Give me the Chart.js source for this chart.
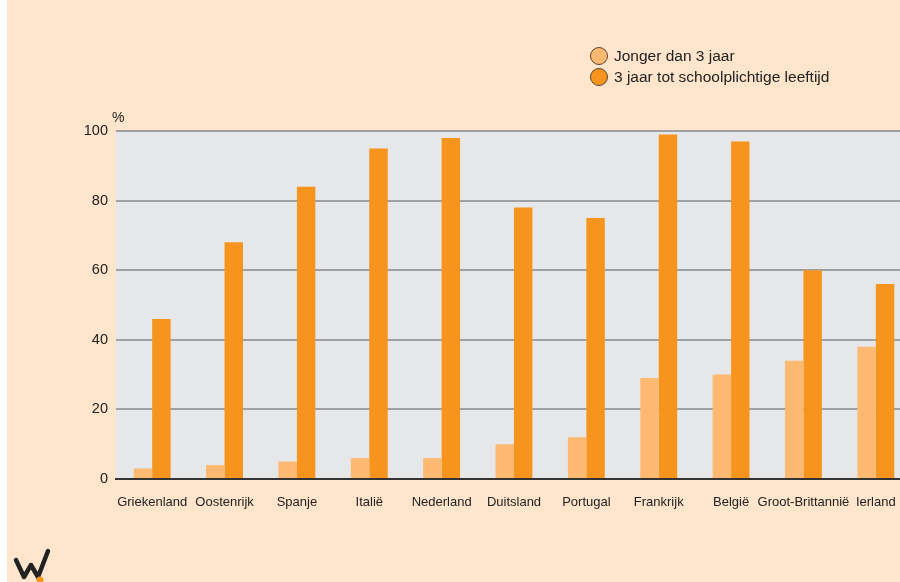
<!DOCTYPE html>
<html>
<head>
<meta charset="utf-8">
<script src="https://cdn.jsdelivr.net/npm/chart.js@4/dist/chart.umd.min.js"></script>
<style>
html, body { margin: 0; padding: 0; background: #fff; overflow: hidden; }
#wrap { position: absolute; left: 0; top: 0; width: 900px; height: 582px; overflow: hidden; background: #fee5cb; }
#strip { position: absolute; left: 0; top: 0; width: 7px; height: 582px; background: #fff; }
#box { position: absolute; left: 0; top: 0; width: 912px; height: 582px; }
#pct { position: absolute; left: 112px; top: 109px; font: 14px "Liberation Sans", Arial, sans-serif; color: #222; }
#legend { position: absolute; left: 590px; top: 45px; font: 15.5px "Liberation Sans", Arial, sans-serif; color: #222; }
#legend div { height: 21px; line-height: 21px; white-space: nowrap; }
#legend span { display: inline-block; width: 18px; height: 18px; border-radius: 50%; border: 1.5px solid #5a4632; vertical-align: -4px; margin-right: 6px; box-sizing: border-box; }
#logo { position: absolute; left: 13px; top: 546px; }
</style>
</head>
<body>
<div id="wrap">
  <div id="box"><canvas id="c"></canvas></div>
  <div id="strip"></div>
  <div id="pct">%</div>
  <div id="legend"></div>
  <svg id="logo" width="48" height="36">
    <polyline points="3,14 11,31 18,19 25,31 35,5" fill="none" stroke="#222" stroke-width="4.5" stroke-linejoin="round" stroke-linecap="round"/>
    <circle cx="27" cy="34" r="3.5" fill="#f7941d"/>
  </svg>
</div>
<script>
const landen = ['Griekenland', 'Oostenrijk', 'Spanje', 'Italië', 'Nederland', 'Duitsland', 'Portugal', 'Frankrijk', 'België', 'Groot-Brittannië', 'Ierland'];
const jonger = [3, 4, 5, 6, 6, 10, 12, 29, 30, 34, 38];
const schoolleeftijd = [46, 68, 84, 95, 98, 78, 75, 99, 97, 60, 56];
const reeksNamen = ['Jonger dan 3 jaar', '3 jaar tot schoolplichtige leeftijd'];
const kleuren = ['#fdb871', '#f7941d'];
const yTicks = [0, 20, 40, 60, 80, 100];

const legend = document.getElementById('legend');
reeksNamen.forEach(function (naam, i) {
  const row = document.createElement('div');
  row.innerHTML = '<span style="background:' + kleuren[i] + '"></span>' + naam;
  legend.appendChild(row);
});

const plotBg = {
  id: 'plotBg',
  beforeDraw(chart) {
    const a = chart.chartArea;
    const ctx = chart.ctx;
    ctx.save();
    ctx.fillStyle = '#e6e7e9';
    ctx.fillRect(a.left, a.top, a.right - a.left, a.bottom - a.top);
    ctx.restore();
  }
};

Chart.defaults.font.family = '"Liberation Sans", Arial, sans-serif';
Chart.defaults.color = '#222';

new Chart('c', {
  type: 'bar',
  data: {
    labels: landen,
    datasets: [
      { label: reeksNamen[0], data: jonger, backgroundColor: kleuren[0] },
      { label: reeksNamen[1], data: schoolleeftijd, backgroundColor: kleuren[1] }
    ]
  },
  options: {
    responsive: true,
    maintainAspectRatio: false,
    animation: false,
    categoryPercentage: 0.51,
    barPercentage: 1,
    layout: { padding: { top: 131, bottom: 73, left: 0, right: 0 } },
    plugins: { legend: { display: false }, tooltip: { enabled: false } },
    scales: {
      x: {
        grid: { display: false },
        border: { color: '#333', width: 2 },
        ticks: { font: { size: 13 }, padding: 8, maxRotation: 0, autoSkip: false },
        afterFit(s) { s.height = 30; }
      },
      y: {
        min: 0, max: 100,
        afterBuildTicks(s) { s.ticks = yTicks.map(function (v) { return { value: v }; }); },
        grid: {
          color(ctx) { return ctx.tick && ctx.tick.value === 0 ? '#333' : '#9fa0a2'; },
          lineWidth: 2,
          drawTicks: false
        },
        border: { display: false },
        ticks: { font: { size: 14.5 }, padding: 8 },
        afterFit(s) { s.width = 116; }
      }
    }
  },
  plugins: [plotBg]
});
</script>
</body>
</html>
